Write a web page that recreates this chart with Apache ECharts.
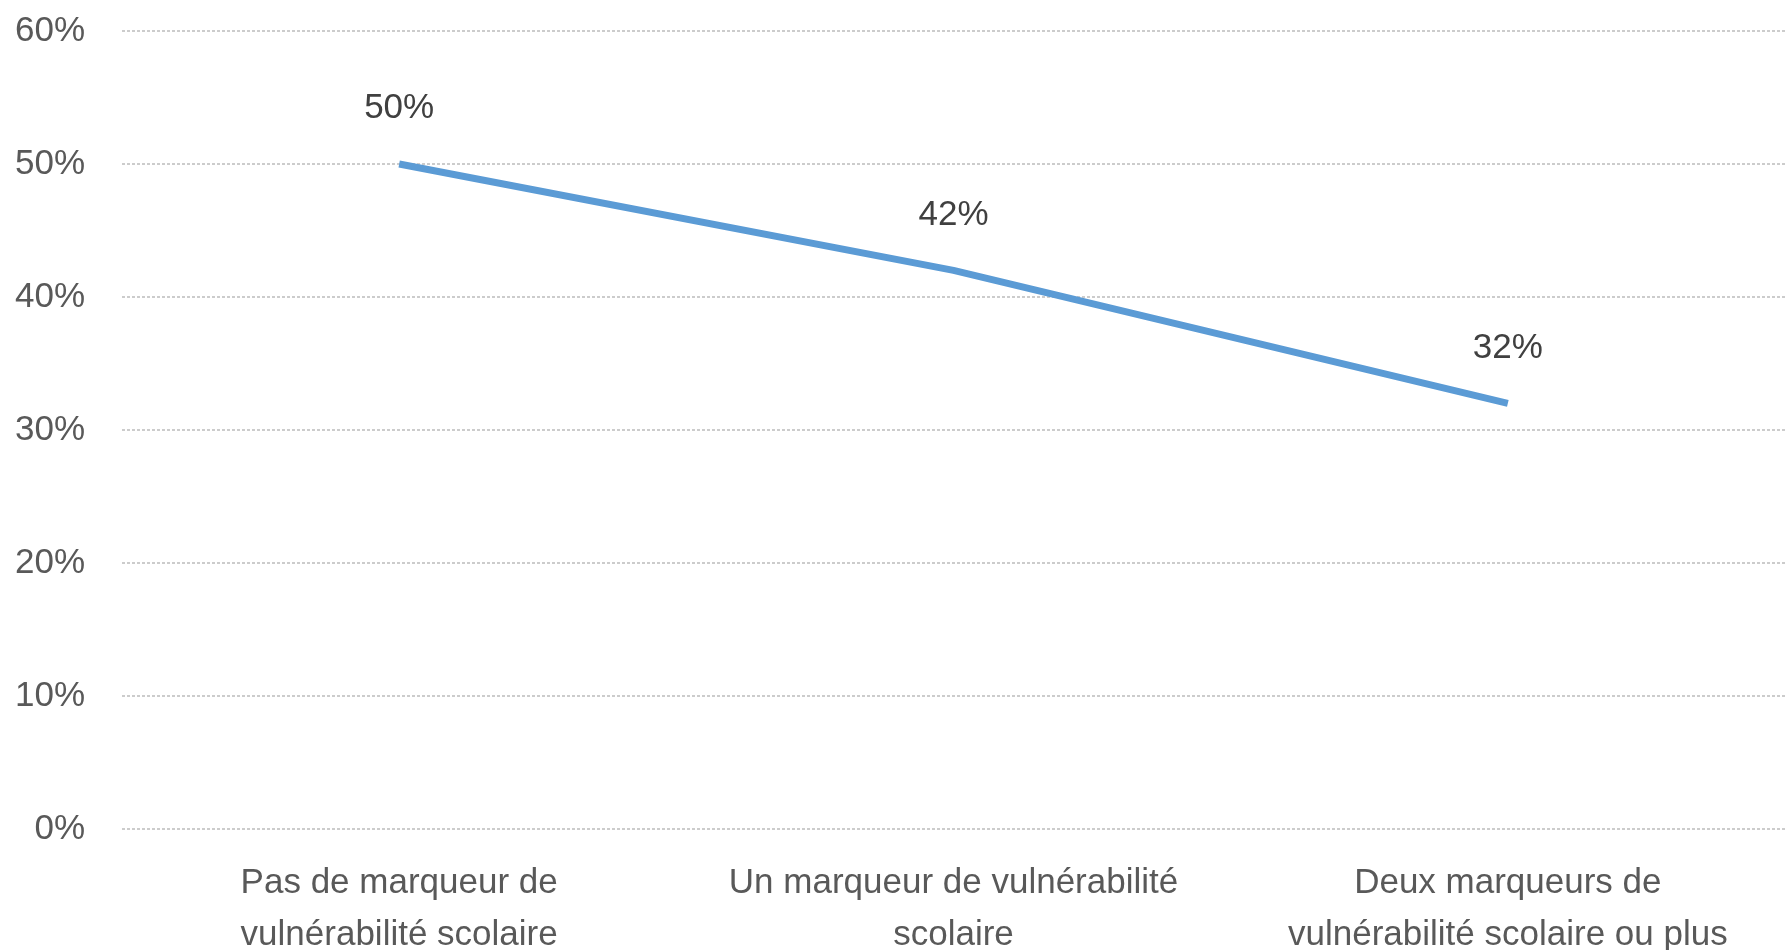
<!DOCTYPE html>
<html>
<head>
<meta charset="utf-8">
<script src="https://cdn.jsdelivr.net/npm/echarts@6/dist/echarts.min.js"></script>
<style>
html,body{margin:0;padding:0;background:#fff;}
#chart{width:1785px;height:950px;}
</style>
</head>
<body>
<div id="chart"></div>
<script>
const categories = [
  "Pas de marqueur de\nvulnérabilité scolaire",
  "Un marqueur de vulnérabilité\nscolaire",
  "Deux marqueurs de\nvulnérabilité scolaire ou plus"
];
const values = [50, 42, 32];
const yMin = 0, yMax = 60, yStep = 10;

const chart = echarts.init(document.getElementById('chart'));
const textColor = '#595959';
const font = '"Liberation Sans", Arial, sans-serif';
chart.setOption({
  animation: false,
  backgroundColor: '#ffffff',
  grid: {left: 122, right: 0, top: 31, bottom: 121, containLabel: false, outerBoundsMode: 'none'},
  xAxis: {
    type: 'category',
    data: categories,
    boundaryGap: true,
    axisLine: {show: false},
    axisTick: {show: false},
    axisLabel: {
      color: textColor, fontSize: 35, fontFamily: font,
      lineHeight: 52, margin: 28, interval: 0
    }
  },
  yAxis: {
    type: 'value',
    min: yMin, max: yMax, interval: yStep,
    axisLine: {show: false},
    axisTick: {show: false},
    axisLabel: {
      color: textColor, fontSize: 35, fontFamily: font, margin: 37,
      formatter: v => v + '%'
    },
    splitLine: {lineStyle: {color: '#cccccc', width: 2, type: [3, 2]}}
  },
  series: [{
    type: 'line',
    data: values,
    symbol: 'none',
    lineStyle: {color: '#5b9bd5', width: 7}
  }, {
    type: 'scatter',
    data: values,
    symbolSize: 2,
    itemStyle: {color: 'rgba(0,0,0,0)', opacity: 1},
    label: {
      show: true, position: 'top', distance: 37,
      color: '#404040', fontSize: 35, fontFamily: font,
      formatter: p => p.value + '%'
    },
    z: 5
  }]
});
</script>
</body>
</html>
